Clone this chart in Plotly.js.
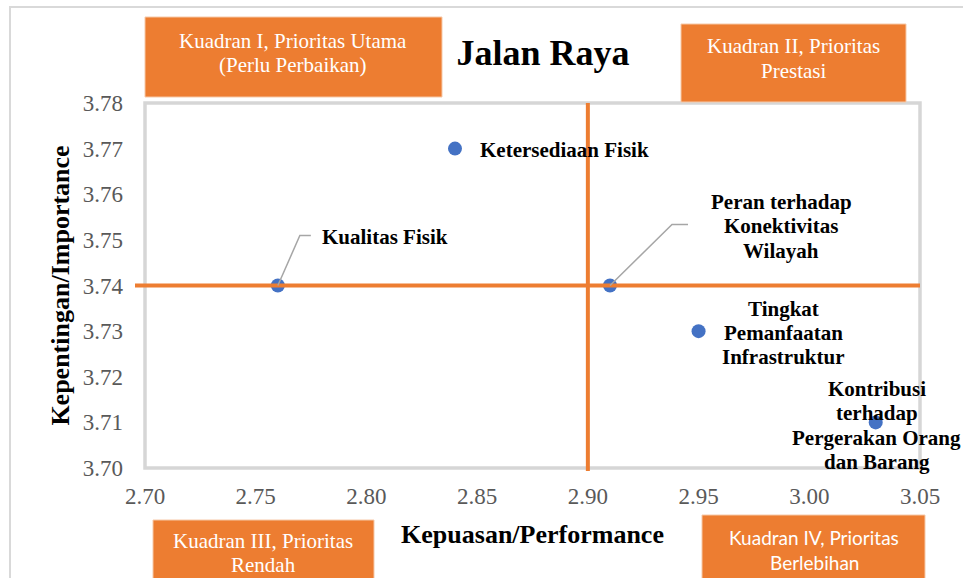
<!DOCTYPE html>
<html>
<head>
<meta charset="utf-8">
<script src="https://cdn.plot.ly/plotly-3.0.1.min.js"></script>
<style>html,body{margin:0;padding:0;background:#fff;}#chart{width:963px;height:578px;}</style>
</head>
<body>
<div id="chart"></div>
<script>
// ---- data ----
var attributeNames = [
  "Ketersediaan Fisik",
  "Kualitas Fisik",
  "Peran terhadap<br>Konektivitas<br>Wilayah",
  "Tingkat<br>Pemanfaatan<br>Infrastruktur",
  "Kontribusi<br>terhadap<br>Pergerakan Orang<br>dan Barang"
];
var performance = [2.84, 2.76, 2.91, 2.95, 3.03];
var importance  = [3.77, 3.74, 3.74, 3.73, 3.71];
var meanPerformance = 2.90;
var meanImportance = 3.74;
var xTicks = [2.70, 2.75, 2.80, 2.85, 2.90, 2.95, 3.00, 3.05];
var yTicks = [3.70, 3.71, 3.72, 3.73, 3.74, 3.75, 3.76, 3.77, 3.78];
var quadrantLabels = [
  "Kuadran I, Prioritas Utama<br>(Perlu Perbaikan)",
  "Kuadran II, Prioritas<br>Prestasi",
  "Kuadran III, Prioritas<br>Rendah",
  "Kuadran IV, Prioritas<br>Berlebihan"
];

// ---- layout geometry (pixels) ----
var W = 963, H = 578;
var M = {l: 145, r: 43, t: 103, b: 110};
var PW = W - M.l - M.r, PH = H - M.t - M.b;
var xRange = [2.70, 3.05], yRange = [3.70, 3.78];
function px2paperX(px){ return (px - M.l) / PW; }
function px2paperY(py){ return (H - M.b - py) / PH; }
var xPerPx = (xRange[1]-xRange[0]) / PW;
var yPerPx = (yRange[1]-yRange[0]) / PH;

var ORANGE = "#ED7D31";
var SERIF = "Liberation Serif, Times New Roman, serif";
var SANS = "Lato, Carlito, Open Sans, sans-serif";

// label placement (pixel offsets from point)
var labelStyle = [
  {anchor: "left",   dx: 23,  dy: [-1]},
  {anchor: "left",   dx: 42,  dy: [49]},
  {anchor: "center", dx: 171, dy: [84, 60, 35]},
  {anchor: "center", dx: 85,  dy: [22, -2, -26]},
  {anchor: "center", dx: 1,   dy: [33, 9, -16, -40]}
];
// leader lines (pixel offsets from point), for indices 1 and 2
var leaders = {1: [[22, 50], [33, 50]], 2: [[62, 61], [78, 61]]};

var annotations = [];
attributeNames.forEach(function(name, i){
  var lines = name.split("<br>");
  var st = labelStyle[i];
  lines.forEach(function(line, j){
    annotations.push({
      x: performance[i], y: importance[i], xref: "x", yref: "y",
      text: "<b>" + line + "</b>", showarrow: false,
      xanchor: st.anchor, yanchor: "middle",
      xshift: st.dx, yshift: st.dy[j],
      font: {family: SERIF, size: 21, color: "#000"}
    });
  });
});

// quadrant boxes (pixel rects) and text
var qBoxes = [
  {x0: 145, x1: 442, y0: 17,  y1: 97,  cx: 293, lines: [41, 65], font: SERIF, size: 21},
  {x0: 681, x1: 906, y0: 24,  y1: 102, cx: 793, lines: [46, 71], font: SERIF, size: 21},
  {x0: 153, x1: 374, y0: 520, y1: 600, cx: 263, lines: [541, 565], font: SERIF, size: 21},
  {x0: 702, x1: 925, y0: 515, y1: 600, cx: 814, lines: [537, 562], font: SANS, size: 19}
];

var shapes = [];
// outer chart border
shapes.push({type: "rect", xref: "paper", yref: "paper",
  x0: px2paperX(10), x1: px2paperX(1000), y0: px2paperY(620), y1: px2paperY(7),
  line: {color: "#d9d9d9", width: 2}, layer: "below"});
// plot area border
shapes.push({type: "rect", xref: "paper", yref: "paper",
  x0: 0, x1: 1, y0: 0, y1: 1, line: {color: "#d6d6d6", width: 3.5}, layer: "below"});
// mean lines
shapes.push({type: "line", xref: "paper", yref: "y", x0: px2paperX(135), x1: 1,
  y0: meanImportance, y1: meanImportance, line: {color: ORANGE, width: 4}});
shapes.push({type: "line", xref: "x", yref: "paper", x0: meanPerformance, x1: meanPerformance,
  y0: px2paperY(471), y1: 1, line: {color: ORANGE, width: 4}});
// leader lines
Object.keys(leaders).forEach(function(k){
  var i = +k, x = performance[i], y = importance[i];
  var p = "M" + x + "," + y;
  leaders[k].forEach(function(o){ p += " L" + (x + o[0]*xPerPx) + "," + (y + o[1]*yPerPx); });
  shapes.push({type: "path", xref: "x", yref: "y", path: p, line: {color: "#a6a6a6", width: 1.5}});
});
// quadrant boxes
qBoxes.forEach(function(b, i){
  shapes.push({type: "rect", xref: "paper", yref: "paper",
    x0: px2paperX(b.x0), x1: px2paperX(b.x1), y0: px2paperY(b.y1), y1: px2paperY(b.y0),
    fillcolor: ORANGE, line: {color: "#f6c9a8", width: 1}, layer: "above"});
  quadrantLabels[i].split("<br>").forEach(function(line, j){
    annotations.push({xref: "paper", yref: "paper", x: px2paperX(b.cx), y: px2paperY(b.lines[j]),
      xanchor: "center", yanchor: "middle", text: line, showarrow: false,
      font: {family: b.font, size: b.size, color: "#fff"}});
  });
});

var trace = {
  type: "scatter", mode: "markers",
  x: performance, y: importance,
  marker: {color: "#4472C4", size: 14},
  hoverinfo: "x+y", cliponaxis: false
};

var layout = {
  width: W, height: H,
  margin: M,
  paper_bgcolor: "#fff", plot_bgcolor: "#fff",
  showlegend: false,
  font: {family: SERIF},
  title: {text: "<b>Jalan Raya</b>", x: 543/W, y: 1 - 52/H, xanchor: "center", yanchor: "middle",
    font: {family: SERIF, size: 36, color: "#000"}},
  xaxis: {range: xRange, tickvals: xTicks, ticktext: xTicks.map(function(v){return v.toFixed(2);}),
    showgrid: false, zeroline: false, showline: false, ticks: "", ticklabelstandoff: 12,
    tickfont: {family: SERIF, size: 23, color: "#595959"},
    title: {text: "<b>Kepuasan/Performance</b>", standoff: 16, font: {family: SERIF, size: 26, color: "#000"}}},
  yaxis: {range: yRange, tickvals: yTicks, ticktext: yTicks.map(function(v){return v.toFixed(2);}),
    showgrid: false, zeroline: false, showline: false, ticks: "", ticklabelstandoff: 21,
    tickfont: {family: SERIF, size: 23, color: "#595959"},
    title: {text: "<b>Kepentingan/Importance</b>", standoff: 5, font: {family: SERIF, size: 26, color: "#000"}}},
  shapes: shapes,
  annotations: annotations
};

Plotly.newPlot("chart", [trace], layout, {displayModeBar: false, staticPlot: true});
</script>
</body>
</html>
